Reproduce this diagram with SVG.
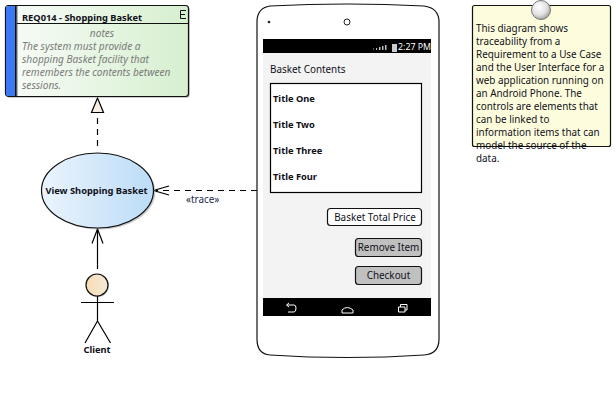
<svg xmlns="http://www.w3.org/2000/svg" width="616" height="401" viewBox="0 0 616 401">
<style>
text{font-family:"Noto Sans","Open Sans","Liberation Sans",sans-serif;font-size:9.900px;fill:#101018}
.b{font-weight:700;font-size:9.300px}
.n{fill:#7a7a7a;font-style:italic;font-size:10.100px}
.c{stroke:#000;stroke-width:1.2;fill:none}
.d{stroke-dasharray:6 5}
.btn{stroke:#111;stroke-width:1.2}
.m{text-anchor:middle}
.nav{stroke:#fff;stroke-width:1;fill:none}
</style>
<defs>
<linearGradient id="gr" x1="0" x2="1" y1="0" y2="0"><stop offset="0" stop-color="#f8fcf8"/><stop offset="1" stop-color="#d6efcf"/></linearGradient>
<linearGradient id="gb" x1="0" x2="1" y1="0" y2="0"><stop offset="0" stop-color="#eaf4fd"/><stop offset="1" stop-color="#bcdcf8"/></linearGradient>
<linearGradient id="ga" x1="0" x2="1" y1="0" y2="0"><stop offset="0" stop-color="#f9dcb4"/><stop offset="1" stop-color="#f5ead8"/></linearGradient>
<radialGradient id="gp" cx=".4" cy=".35" r=".7"><stop offset="0" stop-color="#fff"/><stop offset=".6" stop-color="#e0e0e0"/><stop offset="1" stop-color="#9a9a9a"/></radialGradient>
</defs>
<g id="connectors">
<path class="c d" d="M97.500 146V113"/>
<path d="M97.500 98L91.500 112.500H103.500Z" fill="#f7efe4" stroke="#000" stroke-width="1.200"/>
<path class="c d" d="M257 190.500H156"/>
<path class="c" d="M169 186L153.500 190.500L169 195"/>
<path class="c" d="M97.500 269V229"/>
<path class="c" d="M92 243.500L97.500 229L103 243.500"/>
<text x="186" y="203" style="fill:#1a2a50">«trace»</text>
</g>
<g id="req014">
<rect x="7" y="7" width="183" height="91" rx="3" fill="#999" opacity=".5"/>
<rect x="5.500" y="5.500" width="183" height="91" rx="3" fill="url(#gr)" stroke="#111" stroke-width="1.200"/>
<path d="M8.500 6H15V96H8.500Q6 96 6 93.500V8.500Q6 6 8.500 6Z" fill="#3d78f5"/>
<path d="M15.500 5.500V96.500M16.800 5.500V96.500M16.800 23.500H188.500" stroke="#111" fill="none"/>
<text x="22" y="20.500" class="b">REQ014 - Shopping Basket</text>
<path d="M186 10.500H180.500V18.500H186M180.500 14.500H185" stroke="#111" fill="none"/>
<text x="102" y="37" class="n m">notes</text>
<text x="22" y="50" class="n">The system must provide a</text>
<text x="22" y="63" class="n">shopping Basket facility that</text>
<text x="22" y="76" class="n">remembers the contents between</text>
<text x="22" y="89" class="n">sessions.</text>
</g>
<g id="view-shopping-basket">
<ellipse cx="99.500" cy="192" rx="56" ry="37.500" fill="#999" opacity=".5"/>
<ellipse cx="97.500" cy="190.500" rx="56" ry="37.500" fill="url(#gb)" stroke="#111" stroke-width="1.200"/>
<text x="96.500" y="194" class="b m">View Shopping Basket</text>
</g>
<g id="client">
<circle cx="98" cy="286" r="11" fill="#999" opacity=".5"/>
<circle cx="97" cy="285" r="11" fill="url(#ga)" stroke="#111" stroke-width="1.200"/>
<path class="c" d="M97.500 296V321M81 302.500H114M97.500 321L85 343M97.500 321L110.500 343"/>
<text x="97" y="353" class="b m">Client</text>
</g>
<g id="phone">
<path d="M270 6Q347 2 424 6Q439 8 439 22V339Q439 354 424 355Q347 360 270 355Q257 354 257 339V22Q257 8 270 6Z" fill="#fff" stroke="#111" stroke-width="1.200"/>
<circle cx="269" cy="22" r="1.300" fill="#222"/>
<circle cx="347" cy="22" r="3" fill="#fff" stroke="#222"/>
<rect x="263" y="39" width="168" height="277" fill="#f3f3f3"/>
<rect x="263" y="39" width="168" height="14" fill="#000"/>
<path d="M373 48.500h1v1h-1zM376 48h1v2h-1zM379 47h1.500v3h-1.500zM382 46h1.500v4h-1.500zM385 45h1.500v5h-1.500z" fill="#bbb"/>
<rect x="392" y="44" width="5" height="8" fill="#ccc"/>
<text x="398" y="50" style="fill:#fff;font-size:8.800px">2:27 PM</text>
<text x="270" y="73">Basket Contents</text>
<rect x="270.500" y="83.500" width="151" height="109" fill="#fff" stroke="#000" stroke-width="1.200"/>
<text x="273" y="102" class="b">Title One</text>
<text x="273" y="128" class="b">Title Two</text>
<text x="273" y="154" class="b">Title Three</text>
<text x="273" y="180" class="b">Title Four</text>
<rect x="327.500" y="208.500" width="94" height="17" rx="3" fill="#fff" class="btn"/>
<text x="375" y="221" class="m">Basket Total Price</text>
<rect x="355.500" y="238.500" width="66" height="18" rx="3" fill="#c0c0c0" class="btn"/>
<text x="388.500" y="251" class="m">Remove Item</text>
<rect x="355.500" y="266.500" width="66" height="18" rx="3" fill="#c0c0c0" class="btn"/>
<text x="388.500" y="279" class="m">Checkout</text>
<rect x="263" y="298" width="168" height="18" fill="#000"/>
<path class="nav" d="M287 305H294Q296 305 296 308Q296 312 294 312H288M289 303L286.500 305L289 307"/>
<path class="nav" d="M342 313V310Q347 305 353 310V313Z"/>
<path class="nav" d="M398.500 307V312H405V307ZM400.500 307V304.500H407V310H405"/>
</g>
<g id="note">
<rect x="472.500" y="5.500" width="138" height="141" rx="2" fill="#fdfdde" stroke="#111" stroke-width="1.200"/>
<circle cx="541" cy="10" r="9.500" fill="url(#gp)" stroke="#777"/>
<text x="476" y="32">This diagram shows</text>
<text x="476" y="45">traceability from a</text>
<text x="476" y="58">Requirement to a Use Case</text>
<text x="476" y="71">and the User Interface for a</text>
<text x="476" y="84">web application running on</text>
<text x="476" y="97">an Android Phone. The</text>
<text x="476" y="110">controls are elements that</text>
<text x="476" y="123">can be linked to</text>
<text x="476" y="136">information items that can</text>
<text x="476" y="149">model the source of the</text>
<text x="476" y="162">data.</text>
</g>
</svg>
